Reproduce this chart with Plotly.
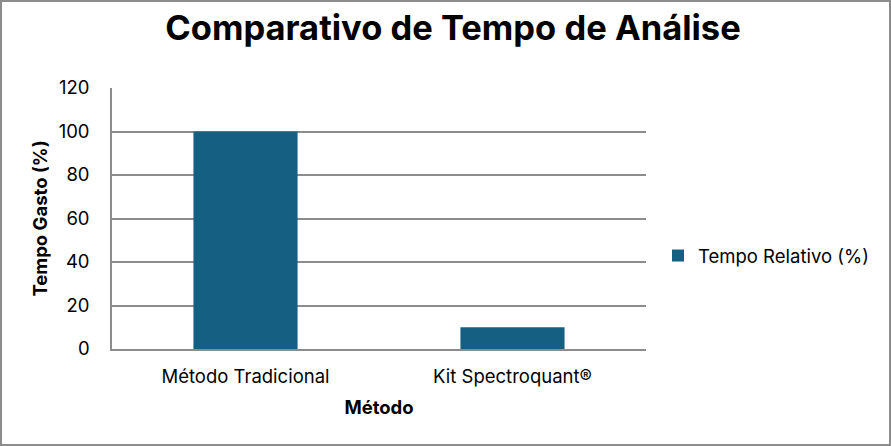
import plotly.graph_objects as go

metodos = ["Método Tradicional", "Kit Spectroquant®"]
tempo_relativo = [100, 10]
y_ticks = [0, 20, 40, 60, 80, 100, 120]

W, H = 891, 446
L, R, T, B = 112, 245, 88, 97
pw, ph = W - L - R, H - T - B

fig = go.Figure()
fig.add_trace(go.Bar(
    x=metodos, y=tempo_relativo, name="Tempo Relativo (%)",
    marker=dict(color="#156082", line=dict(width=0)),
    width=0.39,
))

fnt = "Inter, Liberation Sans, Arial, sans-serif"
fig.update_layout(
    width=W, height=H,
    margin=dict(l=L, r=R, t=T, b=B),
    paper_bgcolor="white", plot_bgcolor="white",
    font=dict(family=fnt, size=19, color="#000000"),
    title=dict(text="<b>Comparativo de Tempo de Análise</b>", x=453 / W, xref="container",
               xanchor="center", y=1 - 28 / H, yanchor="middle",
               font=dict(size=34.5, family=fnt)),
    showlegend=True,
    legend=dict(x=(658 - L) / pw, y=1 - (256 - T) / ph, xanchor="left",
                yanchor="middle", font=dict(size=18.5), itemwidth=30,
                bgcolor="rgba(0,0,0,0)"),
    xaxis=dict(showgrid=False, showline=True, linecolor="#8c8c8c", linewidth=1.5,
               ticks="", tickfont=dict(size=18.5), ticklabelstandoff=10,
               title=dict(text="<b>Método</b>", font=dict(size=18.5), standoff=15)),
    yaxis=dict(range=[0, 120], tickvals=y_ticks, showgrid=True, gridcolor="#8c8c8c",
               gridwidth=1.5, showline=True, linecolor="#8c8c8c", linewidth=1.5,
               zeroline=False, ticks="", tickfont=dict(size=18.5), ticklabelstandoff=17,
               title=dict(text="<b>Tempo Gasto (%)</b>", font=dict(size=18.5), standoff=6)),
    bargap=0.61,
)

fig.add_shape(type="rect", xref="paper", yref="paper",
              x0=(1 - L) / pw, x1=(W - 1 - L) / pw,
              y0=-(B - 1) / ph, y1=1 + (T - 1) / ph,
              line=dict(color="#8c8c8c", width=2), fillcolor="rgba(0,0,0,0)", layer="below")

fig.write_html("out.html", config={"displayModeBar": False},
               post_script="document.body.style.margin='0px';")
